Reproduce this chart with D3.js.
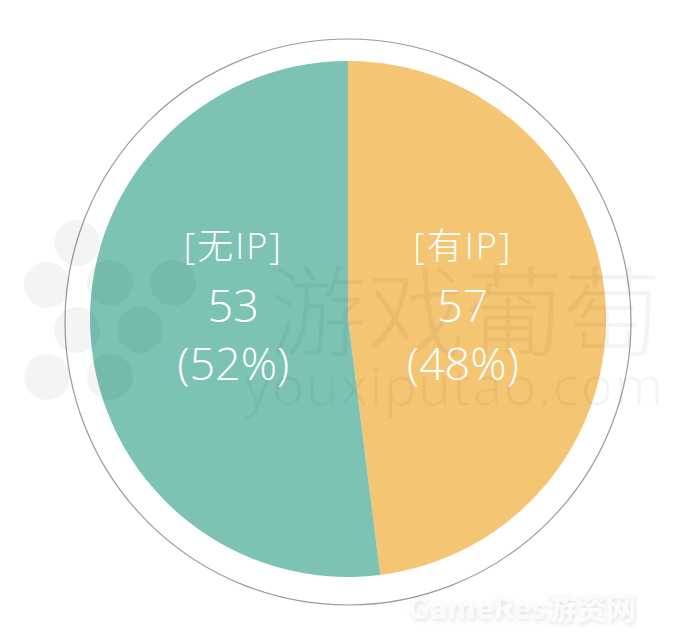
<!DOCTYPE html>
<html>
<head>
<meta charset="utf-8">
<script src="https://cdn.jsdelivr.net/npm/d3@7/dist/d3.min.js"></script>
<style>
  html, body { margin: 0; padding: 0; background: #fff; }
  svg { display: block; }
</style>
</head>
<body>
<svg id="chart" width="688" height="636"></svg>
<script>
// ---- data ----
const categories = ["有IP", "无IP"];
const counts = [57, 53];
const percents = [48, 52];
const colors = ["#F4C573", "#7CC3B3"];

const W = 688, H = 636;
const cx = 348, cy = 319, R = 258;
const ringCx = 348, ringCy = 322, ringR = 283;

const svg = d3.select("#chart");

// outer thin ring
svg.append("circle")
  .attr("cx", ringCx).attr("cy", ringCy).attr("r", ringR)
  .attr("fill", "none").attr("stroke", "#9a9a9a").attr("stroke-width", 1.2);

const data = categories.map((c, i) => ({ cat: c, count: counts[i], pct: percents[i], color: colors[i] }));

const pie = d3.pie().value(d => d.pct).sort(null);
const arcs = pie(data);
const arc = d3.arc().innerRadius(0).outerRadius(R);
const labelArc = d3.arc().innerRadius(115).outerRadius(115);

const g = svg.append("g").attr("transform", `translate(${cx},${cy})`);
g.selectAll("path.slice").data(arcs).enter().append("path")
  .attr("class", "slice")
  .attr("d", arc)
  .attr("fill", d => d.data.color);

// watermark (faint)
const wm = svg.append("g").attr("fill", "#000").attr("fill-opacity", 0.045);
const dots = [[77,243],[47,285],[110,283],[173,283],[77,330],[140,330],[110,377],[47,377]];
wm.selectAll("circle").data(dots).enter().append("circle")
  .attr("cx", d => d[0]).attr("cy", d => d[1]).attr("r", 23);
wm.append("text").attr("x", 465).attr("y", 348).attr("text-anchor", "middle")
  .attr("font-family", "Noto Sans CJK SC").attr("font-weight", 300).attr("font-size", 98)
  .text("游戏葡萄");
wm.append("text").attr("x", 455).attr("y", 405).attr("text-anchor", "middle")
  .attr("font-family", "Noto Sans").attr("font-weight", 300).attr("font-size", 54)
  .attr("letter-spacing", 2)
  .text("youxiputao.com");

// labels
const lbl = g.selectAll("g.lbl").data(arcs).enter().append("g")
  .attr("class", "lbl")
  .attr("transform", d => `translate(${labelArc.centroid(d)[0]},0)`)
  .attr("fill", "#fff")
  .attr("text-anchor", "middle")
  .attr("font-family", "'Open Sans', 'Noto Sans CJK SC', sans-serif")
  .attr("font-weight", 300);

lbl.append("text").attr("y", -60).attr("font-size", 36).attr("letter-spacing", 2).text(d => `[${d.data.cat}]`);
lbl.append("text").attr("y", 3).attr("font-size", 45).text(d => d.data.count);
lbl.append("text").attr("y", 61).attr("font-size", 45).text(d => `(${d.data.pct}%)`);

// bottom-right watermark
const defs = svg.append("defs");
const f = defs.append("filter").attr("id", "sh").attr("x", "-10%").attr("y", "-30%").attr("width", "120%").attr("height", "160%");
f.append("feDropShadow").attr("dx", 1).attr("dy", 2).attr("stdDeviation", 2).attr("flood-color", "#000").attr("flood-opacity", 0.12);
svg.append("text").attr("x", 522).attr("y", 619).attr("text-anchor", "middle")
  .attr("font-family", "Noto Sans CJK SC, sans-serif").attr("font-weight", 700).attr("font-size", 30)
  .attr("fill", "#fbfbfb").attr("filter", "url(#sh)")
  .text("GameRes游资网");
</script>
</body>
</html>
